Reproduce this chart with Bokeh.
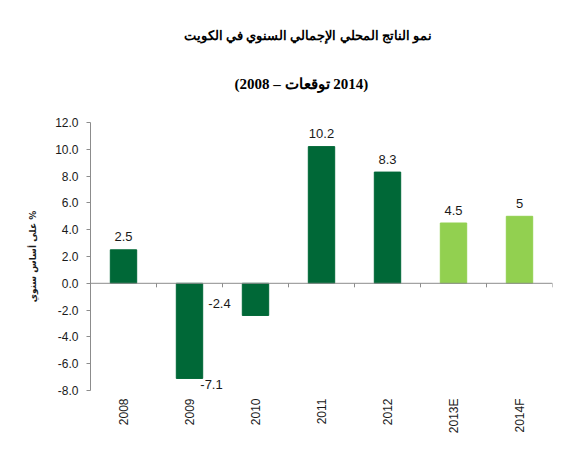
from bokeh.plotting import figure
from bokeh.models import (ColumnDataSource, Range1d, FactorRange, Span,
                          FixedTicker, NumeralTickFormatter, Title)
from bokeh.core.properties import value
from bokeh.embed import file_html
from bokeh.resources import INLINE

# ---- data ----
years = ["2008", "2009", "2010", "2011", "2012", "2013E", "2014F"]
growth = [2.5, -7.1, -2.4, 10.2, 8.3, 4.5, 5.0]
value_labels = ["2.5", "-7.1", "-2.4", "10.2", "8.3", "4.5", "5"]
is_forecast = [False, False, False, False, False, True, True]
y_ticks = [-8, -6, -4, -2, 0, 2, 4, 6, 8, 10, 12]
title_line1 = "نمو الناتج المحلي الإجمالي السنوي في الكويت"
title_line2 = "\u202a(2008 – توقعات\u200e 2014)\u202c"
y_axis_title = "\u202aعلى أساس سنوي %\u202c"

# ---- style ----
DARK = "#006837"
LIGHT = "#92D050"
AXIS = "#8c8c8c"
colors = [LIGHT if f else DARK for f in is_forecast]
label_dx = [0, 22, -36, 0, 0, 0, 0]
label_dy = [-13, 6, -12, -13, -13, -13, -13]

src = ColumnDataSource(dict(x=years, top=growth, color=colors, lab=value_labels,
                            dx=label_dx, dy=label_dy))

p = figure(width=581, height=450,
           x_range=FactorRange(*years), y_range=Range1d(-8, 12),
           output_backend="svg", toolbar_location=None,
           min_border_left=90, min_border_right=29,
           min_border_top=122, min_border_bottom=60)
p.outline_line_color = None
p.xgrid.grid_line_color = None
p.ygrid.grid_line_color = None

p.vbar(x="x", top="top", bottom=0, width=0.4, color="color", source=src)
p.text(x="x", y="top", text="lab", x_offset="dx", y_offset="dy", source=src,
       text_align="center", text_baseline="middle",
       text_font=value("Liberation Sans"), text_font_size="13px",
       text_color="#1a1a1a")

# zero line with small ticks at category boundaries (synthetic coordinates)
p.add_layout(Span(location=0, dimension="width", line_color=AXIS, line_width=1))
bounds = list(range(1, len(years) + 1))
p.segment(x0=bounds, y0=[0] * len(bounds), x1=bounds, y1=[-0.3] * len(bounds),
          line_color=AXIS, line_width=1)

# bottom category labels
xa = p.xaxis[0]
xa.axis_line_color = None
xa.major_tick_line_color = None
xa.major_tick_out = 0
xa.minor_tick_line_color = None
xa.major_label_orientation = 1.5708
xa.major_label_standoff = 8
xa.major_label_text_font = "Liberation Sans"
xa.major_label_text_font_size = "12px"
xa.major_label_text_color = "#1a1a1a"

# y axis
ya = p.yaxis[0]
ya.ticker = FixedTicker(ticks=y_ticks)
ya.formatter = NumeralTickFormatter(format="0.0")
ya.axis_line_color = AXIS
ya.major_tick_line_color = AXIS
ya.major_tick_in = 0
ya.major_tick_out = 4
ya.minor_tick_line_color = None
ya.major_label_text_font = "Liberation Sans"
ya.major_label_text_font_size = "12px"
ya.major_label_text_color = "#1a1a1a"
ya.major_label_standoff = 8
ya.axis_label = y_axis_title
ya.axis_label_text_font = "DejaVu Sans"
ya.axis_label_text_font_size = "9px"
ya.axis_label_text_font_style = "bold"
ya.axis_label_text_color = "#1a1a1a"
ya.axis_label_standoff = 14

t2 = Title(text=title_line2, align="left", offset=144, text_font="Liberation Serif",
           text_font_size="15px", text_font_style="bold", text_color="#000000",
           standoff=62)
t1 = Title(text=title_line1, align="left", offset=93, text_font="Liberation Serif",
           text_font_size="13px", text_font_style="bold", text_color="#000000",
           standoff=0)
p.add_layout(t2, "above")
p.add_layout(t1, "above")

open("out.html", "w").write(file_html(p, INLINE))
